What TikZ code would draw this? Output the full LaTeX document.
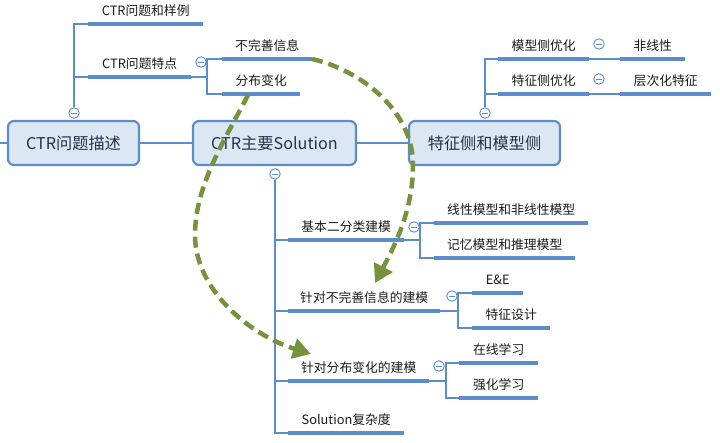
\documentclass[tikz,border=0pt]{standalone}
\usepackage{fontspec}
\setmainfont{Noto Sans CJK SC}
\usetikzlibrary{arrows.meta}
\definecolor{lineblue}{HTML}{5B8CCB}
\definecolor{boxfill}{HTML}{DCE7F4}
\definecolor{boxtext}{HTML}{25324A}
\definecolor{lbltext}{HTML}{1A1A1A}
\definecolor{arrowgreen}{HTML}{76923C}
\tikzset{
  mainbox/.style={draw=lineblue, line width=2.2pt, fill=boxfill, rounded corners=6pt,
    minimum height=44pt, inner sep=0pt, text=boxtext, font=\fontsize{16.2}{18}\selectfont},
  thinl/.style={draw=lineblue, line width=1.2pt},
  ul/.style={draw=lineblue, line width=3.6pt},
  lbl/.style={anchor=south west, inner xsep=0pt, inner ysep=6pt, text height=8.5pt, text depth=2pt,
    text=lbltext, font=\fontsize{12.8}{14}\selectfont},
  marker/.style={circle, draw=lineblue, fill=white, line width=0.9pt, minimum size=10.5pt, inner sep=0pt,
    path picture={\draw[lineblue, line width=0.9pt] ([xshift=-2.8pt]path picture bounding box.center) -- ([xshift=2.8pt]path picture bounding box.center);}},
  greenarrow/.style={draw=arrowgreen, line width=4.5pt, dash pattern=on 11pt off 6pt,
    -{Triangle[length=18pt, width=20pt]}}
}
\begin{document}
\begin{tikzpicture}[x=1pt, y=-1pt]
\useasboundingbox (0,0) rectangle (720,443);

% main boxes
\node[mainbox, minimum width=131pt] (b1) at (73.5,143) {CTR问题描述};
\node[mainbox, minimum width=163pt] (b2) at (274.5,143) {CTR主要Solution};
\node[mainbox, minimum width=151pt] (b3) at (484.5,143) {特征侧和模型侧};
\coordinate (lin) at (0,143);

% left subtree labels
\node[lbl, minimum width=115pt] (l1) at (88,24) {CTR问题和样例};
\node[lbl, minimum width=103pt] (l2) at (88,77) {CTR问题特点};
\node[lbl, minimum width=90pt] (l3) at (222,59) {不完善信息};
\node[lbl, minimum width=78pt] (l4) at (222,94) {分布变化};
\coordinate (j2) at (207,77);

% right subtree labels
\node[lbl, minimum width=91pt] (r1) at (498,59) {模型侧优化};
\node[lbl, minimum width=65pt] (r1a) at (620,59) {非线性};
\node[lbl, minimum width=91pt] (r2) at (498,94) {特征侧优化};
\node[lbl, minimum width=91pt] (r2a) at (620,94) {层次化特征};

% middle subtree labels
\node[lbl, minimum width=116pt] (s1) at (288,240) {基本二分类建模};
\node[lbl, minimum width=154pt] (s1a) at (434,223) {线性模型和非线性模型};
\node[lbl, minimum width=141pt] (s1b) at (434,258) {记忆模型和推理模型};
\coordinate (js1) at (420,240);
\node[lbl, minimum width=152pt] (s2) at (288,311) {针对不完善信息的建模};
\node[lbl, minimum width=51pt] (s2a) at (472,293) {E\&E};
\node[lbl, minimum width=78pt] (s2b) at (472,328) {特征设计};
\coordinate (js2) at (458,311);
\node[lbl, minimum width=141pt] (s3) at (288,381) {针对分布变化的建模};
\node[lbl, minimum width=79pt] (s3a) at (459,363) {在线学习};
\node[lbl, minimum width=79pt] (s3b) at (459,398) {强化学习};
\coordinate (js3) at (446,381);
\node[lbl, minimum width=116pt] (s4) at (288,433) {Solution复杂度};

% collapse markers
\node[marker] (m1) at (74,113) {};
\node[marker] (m4) at (275,174) {};
\node[marker] (m3) at (485,113) {};

% connectors
\begin{scope}[thinl]
\draw (lin) -- (b1.west);
\draw (b1.east) -- (b2.west);
\draw (b2.east) -- (b3.west);
\draw (m1.north) |- (l1.south west);
\draw (m1.north) |- (l2.south west);
\draw (l2.south east) -- (j2);
\draw (j2) |- (l3.south west);
\draw (j2) |- (l4.south west);
\draw (m3.north) |- (r1.south west);
\draw (m3.north) |- (r2.south west);
\draw (r1.south east) -- (r1a.south west);
\draw (r2.south east) -- (r2a.south west);
\draw (m4.south) |- (s1.south west);
\draw (m4.south) |- (s2.south west);
\draw (m4.south) |- (s3.south west);
\draw (m4.south) |- (s4.south west);
\draw (s1.south east) -- (js1);
\draw (js1) |- (s1a.south west);
\draw (js1) |- (s1b.south west);
\draw (s2.south east) -- (js2);
\draw (js2) |- (s2a.south west);
\draw (js2) |- (s2b.south west);
\draw (s3.south east) -- (js3);
\draw (js3) |- (s3a.south west);
\draw (js3) |- (s3b.south west);
\end{scope}

% underlines
\foreach \n in {l1,l2,l3,l4,r1,r1a,r2,r2a,s1,s1a,s1b,s2,s2a,s2b,s3,s3a,s3b,s4}
  \draw[ul] (\n.south west) -- (\n.south east);

% further markers
\node[marker] (m2) at (201,62) {};
\node[marker] (mr1) at (599,44) {};
\node[marker] (mr2) at (599,79) {};
\node[marker] (ms1) at (414,227) {};
\node[marker] (ms2) at (452,296) {};
\node[marker] (ms3) at (439,366) {};

% green dashed arrows
\coordinate (a1s) at (312,59);
\coordinate (a1m) at (413,165);
\coordinate (a1e) at (375,283);
\coordinate (a2s) at (248,95);
\coordinate (a2m) at (195,235);
\coordinate (a2e) at (311,354);
\draw[greenarrow] (a1s) .. controls (360,70) and (413,110) .. (a1m) .. controls (413,210) and (395,245) .. (a1e);
\draw[greenarrow] (a2s) .. controls (225,140) and (195,185) .. (a2m) .. controls (195,290) and (250,335) .. (a2e);
\end{tikzpicture}
\end{document}
